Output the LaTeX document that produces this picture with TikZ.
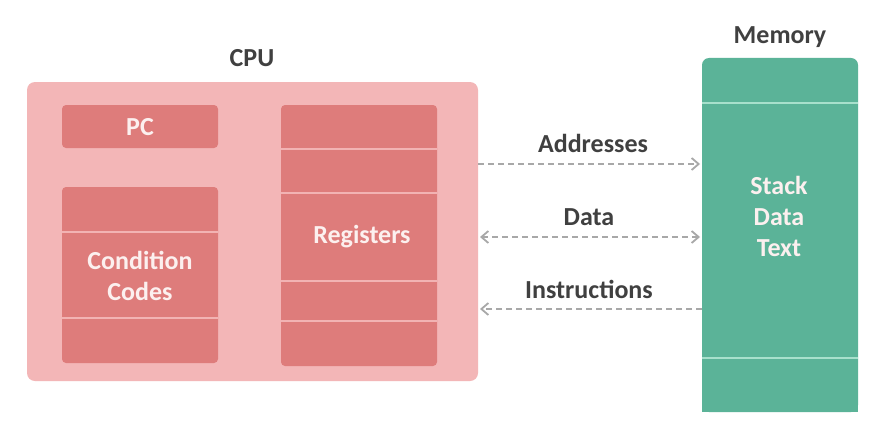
\documentclass[tikz,border=0pt]{standalone}
\usepackage{fontspec}
\setmainfont{Carlito}
\usetikzlibrary{arrows.meta}
\definecolor{cpubg}{HTML}{F3B6B7}
\definecolor{cell}{HTML}{DE7C7B}
\definecolor{cellline}{HTML}{F2B3B3}
\definecolor{mem}{HTML}{5BB398}
\definecolor{memline}{HTML}{A8E0CC}
\definecolor{lbl}{HTML}{404040}
\definecolor{arr}{HTML}{A8A8A8}
\definecolor{intext}{HTML}{FCF0EF}
\tikzset{
  x=1pt, y=-1pt,
  big/.style={font=\fontsize{26}{31}\selectfont\bfseries},
  title/.style={big, text=lbl},
  intxt/.style={big, text=intext, align=center},
  cellbox/.style={fill=cell, rounded corners=4pt},
  sep/.style={draw=cellline, line width=1.2pt},
  msep/.style={draw=memline, line width=1.2pt},
  bus/.style={draw=arr, dashed, dash pattern=on 6pt off 4pt, line width=1.8pt, -{Straight Barb[length=7pt,width=12pt,line width=1.8pt]}},
  busb/.style={bus, {Straight Barb[length=7pt,width=12pt,line width=1.8pt]}-{Straight Barb[length=7pt,width=12pt,line width=1.8pt]}},
  buslbl/.style={big, text=lbl}
}
\begin{document}
\begin{tikzpicture}
\useasboundingbox (0,0) rectangle (872,420);
\fill[white] (0,0) rectangle (872,420);
% CPU
\fill[cpubg, rounded corners=8pt] (27,82) rectangle (478,381);
\node[title] (cpu) at (252,58) {CPU};
% PC
\fill[cellbox] (62,105) rectangle (218,148);
\node[intxt] (pc) at (140,127) {PC};
% Condition codes
\fill[cellbox] (62,187) rectangle (218,363);
\draw[sep] (62,232) -- (218,232);
\draw[sep] (62,318) -- (218,318);
\node[intxt] (cc) at (140,276) {Condition\\Codes};
% Registers
\fill[cellbox] (281,105) rectangle (437,366);
\foreach \yy in {149,193,281,321} \draw[sep] (281,\yy) -- (437,\yy);
\node[intxt] (reg) at (362,237) {Registers};
% Memory
\fill[mem, rounded corners=7pt] (702,58) -- (858,58) -- (858,412) -- (702,412) -- cycle;
\fill[mem] (702,100) rectangle (858,412);
\draw[msep] (702,103) -- (858,103);
\draw[msep] (702,358) -- (858,358);
\node[title] (memlbl) at (780,37) {Memory};
\node[intxt] (mtxt) at (779,216) {Stack\\Data\\Text};
% bus endpoints
\coordinate (a1) at (478,164); \coordinate (a2) at (700,164);
\coordinate (d1) at (480,237); \coordinate (d2) at (700,237);
\coordinate (i1) at (480,309); \coordinate (i2) at (702,309);
\draw[bus] (a1) -- (a2);
\draw[busb] (d1) -- (d2);
\draw[bus] (i2) -- (i1);
\node[buslbl] (la) at (593,143) {Addresses};
\node[buslbl] (ld) at (589,217) {Data};
\node[buslbl] (li) at (589,289) {Instructions};
\end{tikzpicture}
\end{document}
